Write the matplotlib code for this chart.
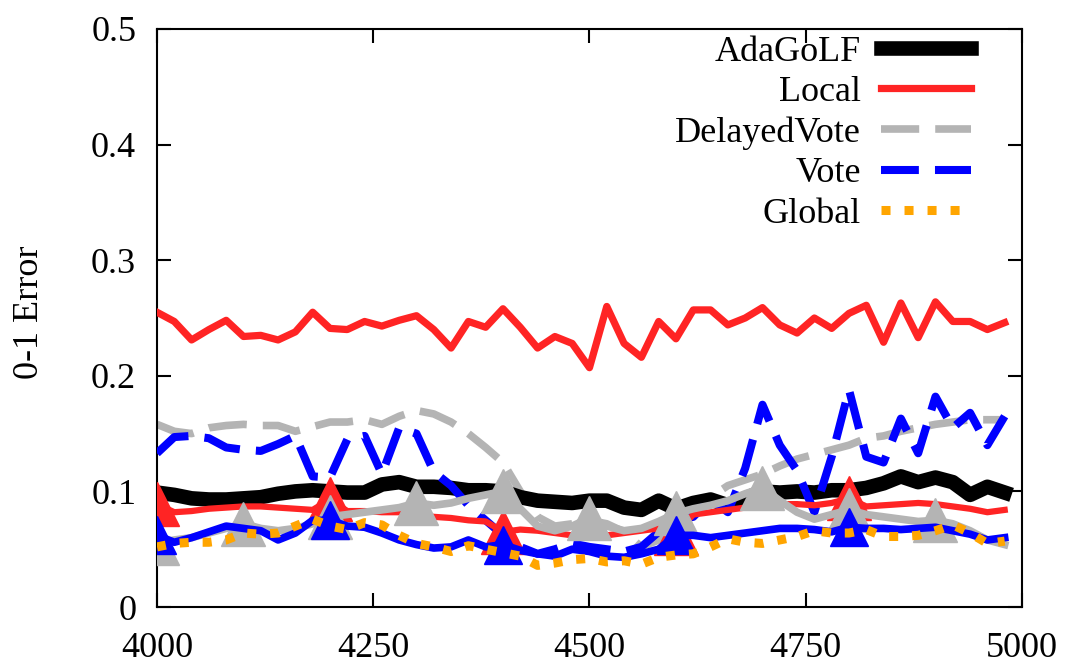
import matplotlib.pyplot as plt

plt.rcParams['font.family'] = ['Liberation Serif', 'DejaVu Serif']

# iterations (every 20 steps)
x = list(range(4000, 5000, 20))

adagolf = [0.099, 0.097, 0.094, 0.093, 0.093, 0.094, 0.095, 0.098, 0.100, 0.101,
           0.100, 0.099, 0.099, 0.106, 0.108, 0.104, 0.104, 0.103, 0.101, 0.101,
           0.100, 0.095, 0.092, 0.091, 0.090, 0.092, 0.092, 0.086, 0.084, 0.092,
           0.085, 0.090, 0.093, 0.088, 0.094, 0.100, 0.099, 0.100, 0.099, 0.101,
           0.101, 0.103, 0.107, 0.113, 0.108, 0.112, 0.108, 0.097, 0.104, 0.099]

local = [0.255, 0.247, 0.231, 0.240, 0.248, 0.234, 0.235, 0.231, 0.238, 0.255,
         0.241, 0.240, 0.247, 0.243, 0.248, 0.252, 0.240, 0.224, 0.247, 0.242,
         0.258, 0.242, 0.224, 0.234, 0.228, 0.207, 0.260, 0.228, 0.216, 0.247,
         0.232, 0.257, 0.257, 0.244, 0.250, 0.259, 0.244, 0.237, 0.250, 0.241,
         0.254, 0.261, 0.229, 0.263, 0.233, 0.264, 0.247, 0.247, 0.240, 0.246]

delayed_vote = [0.158, 0.152, 0.150, 0.155, 0.157, 0.158, 0.157, 0.157, 0.152, 0.156,
                0.160, 0.160, 0.162, 0.158, 0.165, 0.170, 0.167, 0.160, 0.150, 0.138,
                0.125, 0.100, 0.078, 0.070, 0.072, 0.075, 0.072, 0.065, 0.052, 0.058,
                0.065, 0.080, 0.095, 0.105, 0.110, 0.115, 0.122, 0.128, 0.132, 0.136,
                0.140, 0.146, 0.148, 0.152, 0.155, 0.158, 0.160, 0.162, 0.162, 0.162]

vote = [0.133, 0.147, 0.148, 0.146, 0.138, 0.136, 0.135, 0.141, 0.148, 0.113,
        0.112, 0.145, 0.148, 0.115, 0.155, 0.150, 0.117, 0.105, 0.088, 0.075,
        0.062, 0.052, 0.046, 0.050, 0.055, 0.052, 0.050, 0.048, 0.052, 0.065,
        0.075, 0.078, 0.093, 0.082, 0.120, 0.175, 0.140, 0.118, 0.082, 0.130,
        0.188, 0.130, 0.125, 0.163, 0.133, 0.182, 0.155, 0.168, 0.140, 0.165]

global_ = [0.052, 0.055, 0.056, 0.056, 0.058, 0.064, 0.063, 0.064, 0.070, 0.076,
           0.070, 0.067, 0.073, 0.071, 0.062, 0.055, 0.052, 0.048, 0.053, 0.050,
           0.047, 0.044, 0.036, 0.038, 0.041, 0.042, 0.039, 0.040, 0.037, 0.043,
           0.045, 0.046, 0.052, 0.059, 0.056, 0.055, 0.058, 0.061, 0.066, 0.064,
           0.064, 0.067, 0.061, 0.061, 0.062, 0.066, 0.071, 0.064, 0.055, 0.057]

# second run of the same methods, drawn with triangles
local_b = [0.089, 0.082, 0.083, 0.085, 0.086, 0.087, 0.087, 0.086, 0.085, 0.084,
           0.093, 0.083, 0.083, 0.082, 0.082, 0.080, 0.078, 0.077, 0.075, 0.074,
           0.065, 0.067, 0.066, 0.064, 0.062, 0.061, 0.062, 0.064, 0.066, 0.068,
           0.064, 0.080, 0.082, 0.084, 0.086, 0.088, 0.089, 0.089, 0.088, 0.090,
           0.094, 0.087, 0.088, 0.089, 0.090, 0.089, 0.087, 0.085, 0.082, 0.084]

delayed_vote_b = [0.055, 0.058, 0.060, 0.064, 0.068, 0.072, 0.068, 0.066, 0.068, 0.072,
                  0.078, 0.080, 0.082, 0.084, 0.086, 0.090, 0.088, 0.090, 0.094, 0.097,
                  0.100, 0.085, 0.070, 0.066, 0.070, 0.077, 0.070, 0.066, 0.068, 0.074,
                  0.081, 0.085, 0.088, 0.092, 0.098, 0.103, 0.092, 0.082, 0.076, 0.080,
                  0.084, 0.080, 0.078, 0.076, 0.074, 0.075, 0.072, 0.066, 0.058, 0.054]

vote_b = [0.062, 0.056, 0.060, 0.065, 0.070, 0.068, 0.066, 0.058, 0.064, 0.075,
          0.075, 0.070, 0.069, 0.064, 0.058, 0.054, 0.051, 0.052, 0.058, 0.052,
          0.054, 0.049, 0.046, 0.044, 0.050, 0.048, 0.044, 0.043, 0.046, 0.050,
          0.062, 0.062, 0.060, 0.062, 0.064, 0.066, 0.068, 0.068, 0.067, 0.065,
          0.069, 0.068, 0.068, 0.067, 0.068, 0.069, 0.066, 0.063, 0.058, 0.060]

RED = '#ff2424'
GRAY = '#b4b4b4'
BLUE = '#0000ff'
ORANGE = '#ffa500'

fig = plt.figure(figsize=(10.65, 6.68), dpi=100)
ax = fig.add_axes([0.1474, 0.0913, 0.8122, 0.8653])

ax.plot(x, adagolf, color='black', lw=10.5, label='AdaGoLF', zorder=3)
ax.plot(x, local, color=RED, lw=5.2, label='Local', zorder=3)
ax.plot(x, delayed_vote, color=GRAY, lw=5.5, dashes=(5, 2.1), label='DelayedVote', zorder=2)
ax.plot(x, vote, color=BLUE, lw=5.8, dashes=(4.7, 2.0), label='Vote', zorder=4)

ax.plot(x, local_b, color=RED, lw=4.5, marker='^', markersize=32, markevery=10, zorder=5)
ax.plot(x, delayed_vote_b, color=GRAY, lw=5.5, marker='^', markersize=31, markevery=5, zorder=6)
ax.plot(x, vote_b, color=BLUE, lw=5.5, marker='^', markersize=28, markevery=10, zorder=7)

ax.plot(x, global_, color=ORANGE, lw=6.5, dashes=(1, 1.55), label='Global', zorder=8)

ax.set_xlim(4000, 5000)
ax.set_ylim(0, 0.5)
ax.set_xticks([4000, 4250, 4500, 4750, 5000])
ax.set_yticks([0, 0.1, 0.2, 0.3, 0.4, 0.5])
ax.set_yticklabels(['0', '0.1', '0.2', '0.3', '0.4', '0.5'])
ax.tick_params(direction='in', length=10, width=1.5, labelsize=26,
               top=True, right=True)
ax.tick_params(axis='x', pad=18)
ax.tick_params(axis='y', pad=15)
for s in ax.spines.values():
    s.set_linewidth(1.5)

ax.set_ylabel('0-1 Error', fontsize=26)
ax.yaxis.set_label_coords(-0.128, 0.51)

ax.legend(loc='upper right', bbox_to_anchor=(0.958, 1.014), frameon=False,
          markerfirst=False, fontsize=26, handlelength=2.5,
          labelspacing=0.2, handletextpad=0.55, borderaxespad=0)

fig.savefig('out.png', dpi=100)
